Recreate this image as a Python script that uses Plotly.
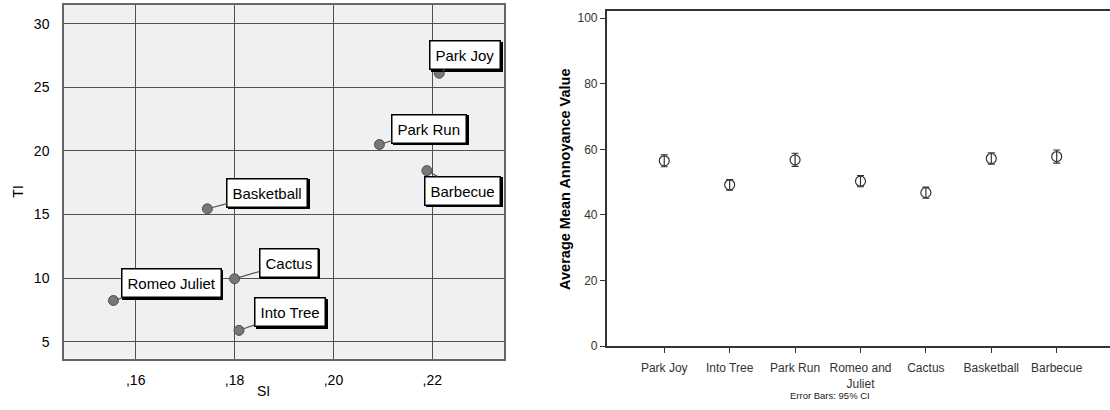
import plotly.graph_objects as go

# Scatter: spatial (SI) vs temporal (TI) information per sequence
seq_names = ["Park Joy", "Park Run", "Barbecue", "Basketball", "Cactus", "Romeo Juliet", "Into Tree"]
si_values = [0.2214, 0.2093, 0.2189, 0.1745, 0.1800, 0.1555, 0.1809]
ti_values = [26.1, 20.5, 18.45, 15.45, 9.95, 8.25, 5.9]
# label box offsets (pixels) from each point
label_dx = [26, 50, 36, 60, 54, 58, 51]
label_dy = [-18, -16, 20, -16, -16, -17, -18]

si_ticks = [0.16, 0.18, 0.20, 0.22]
si_ticktext = [",16", ",18", ",20", ",22"]
ti_ticks = [5, 10, 15, 20, 25, 30]

# Error-bar chart: mean annoyance with 95% CI
categories = ["Park Joy", "Into Tree", "Park Run", "Romeo and<br>Juliet", "Cactus", "Basketball", "Barbecue"]
mean_annoyance = [56.5, 49.2, 56.8, 50.3, 46.8, 57.2, 57.8]
ci_half = [1.8, 1.6, 2.0, 1.7, 1.7, 1.7, 2.0]
annoy_ticks = [0, 20, 40, 60, 80, 100]

W, H = 1110, 410
FONT = "Arial, Liberation Sans, sans-serif"

def px_x(p):
    return p / W

def px_y(p):
    return 1 - p / H

fig = go.Figure()

fig.add_trace(go.Scatter(
    x=si_values, y=ti_values, mode="markers",
    marker=dict(size=10, color="#777777", line=dict(color="#505050", width=1)),
    xaxis="x", yaxis="y", showlegend=False, hoverinfo="text", text=seq_names,
))

fig.add_trace(go.Scatter(
    x=list(range(len(categories))), y=mean_annoyance, mode="markers",
    marker=dict(symbol="circle-open", size=10, color="#333333", line=dict(width=1.2)),
    error_y=dict(type="data", array=ci_half, color="#333333", thickness=1.2, width=3.5),
    xaxis="x2", yaxis="y2", showlegend=False,
))

annotations = []
for name, sx, ty, dx, dy in zip(seq_names, si_values, ti_values, label_dx, label_dy):
    # drop shadow behind each label box
    annotations.append(dict(
        x=sx, y=ty, xref="x", yref="y", text=name, showarrow=True,
        ax=dx + 1.5, ay=dy + 1.5, arrowcolor="rgba(0,0,0,0)", arrowhead=0,
        font=dict(family=FONT, size=15, color="black"),
        bgcolor="black", bordercolor="black", borderwidth=1.5, borderpad=5,
    ))
    annotations.append(dict(
        x=sx, y=ty, xref="x", yref="y", text=name, showarrow=True,
        ax=dx, ay=dy, arrowcolor="#555555", arrowwidth=1.2, arrowhead=0, standoff=4,
        font=dict(family=FONT, size=15, color="black"),
        bgcolor="white", bordercolor="black", borderwidth=1.5, borderpad=5,
    ))

def paper_text(text, x, y, size, color="black", angle=0):
    return dict(text=text, x=px_x(x), y=px_y(y), xref="paper", yref="paper",
                xanchor="center", yanchor="middle", showarrow=False, textangle=angle,
                font=dict(family=FONT, size=size, color=color))

annotations += [
    paper_text("TI", 18, 195, 14, angle=-90),
    paper_text("SI", 263, 398, 14),
    paper_text("<b>Average Mean Annoyance Value</b>", 565, 183, 14.5, angle=-90),
    paper_text("Error Bars: 95% CI", 830, 402, 9.5, color="#222222"),
]

fig.update_layout(
    width=W, height=H, margin=dict(l=0, r=0, t=0, b=0),
    paper_bgcolor="white", plot_bgcolor="white",
    font=dict(family=FONT),
    xaxis=dict(
        domain=[px_x(64), px_x(504)], range=[0.1455, 0.2345],
        tickvals=si_ticks, ticktext=si_ticktext,
        showgrid=True, gridcolor="#505050", gridwidth=1.2, zeroline=False,
        showline=True, linecolor="#666666", linewidth=1.5, mirror=True,
        ticks="outside", ticklen=8, tickcolor="rgba(0,0,0,0)",
        tickfont=dict(family=FONT, size=14, color="black"),
    ),
    yaxis=dict(
        domain=[px_y(365), px_y(5)], range=[3.67, 31.47],
        tickvals=ti_ticks,
        showgrid=True, gridcolor="#505050", gridwidth=1.2, zeroline=False,
        showline=True, linecolor="#666666", linewidth=1.5, mirror=True,
        ticks="outside", ticklen=10, tickcolor="rgba(0,0,0,0)",
        tickfont=dict(family=FONT, size=14, color="black"),
    ),
    xaxis2=dict(
        domain=[px_x(606.7), 1.0], range=[-0.88, 6.815], anchor="y2",
        tickvals=list(range(len(categories))), ticktext=categories,
        showgrid=False, zeroline=False,
        showline=True, linecolor="#333333", linewidth=1.5, mirror=True,
        ticks="outside", ticklen=5, tickcolor="#333333", tickwidth=1.2,
        ticklabelstandoff=5,
        tickfont=dict(family=FONT, size=12, color="#333333"),
    ),
    yaxis2=dict(
        domain=[px_y(352.3), px_y(11)], range=[0, 102.2], anchor="x2",
        tickvals=annoy_ticks,
        showgrid=False, zeroline=False,
        showline=True, linecolor="#333333", linewidth=1.5,
        ticks="outside", ticklen=5, tickcolor="#333333", tickwidth=1.2,
        tickfont=dict(family=FONT, size=12, color="#333333"),
    ),
    annotations=annotations,
)

# light fill inside the scatter plot frame
fig.add_shape(type="rect", xref="x domain", yref="y domain", x0=0, x1=1, y0=0, y1=1,
              fillcolor="#f0f0f0", line=dict(width=0), layer="below")

fig.write_html("out.html")
